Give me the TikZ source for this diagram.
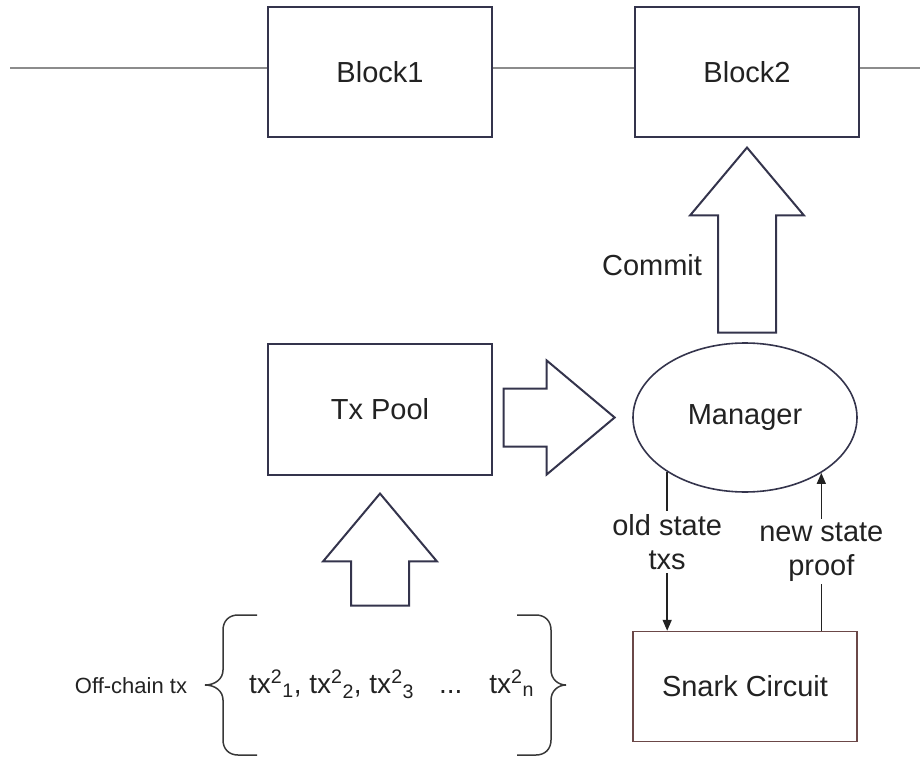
\documentclass[tikz,border=0pt]{standalone}
\usepackage{fontspec}
\setmainfont{Liberation Sans}
\usetikzlibrary{positioning,calc,shapes.geometric,shapes.arrows,arrows.meta}

\definecolor{boxline}{HTML}{34344C}
\definecolor{ledgerline}{HTML}{8C8C8C}
\definecolor{snarkline}{HTML}{6B4848}
\definecolor{ink}{HTML}{222222}
\newcommand{\biglabel}{\fontsize{29}{34}\selectfont}
\newcommand{\txlabel}{\fontsize{28}{33}\selectfont}
\newcommand{\smalllabel}{\fontsize{22}{26}\selectfont}

\begin{document}
\begin{tikzpicture}[x=1pt, y=-1pt,
    block/.style={draw=boxline, line width=2pt, minimum width=224pt, minimum height=130pt, font=\biglabel, text=ink},
    manager/.style={ellipse, draw=boxline, line width=1.6pt, minimum width=224pt, minimum height=149pt, inner sep=0pt, font=\biglabel, text=ink},
    bigarrow/.style={single arrow, draw=boxline, line width=2pt, minimum width=112pt, single arrow head extend=28pt, single arrow tip angle=80, inner xsep=0pt, inner ysep=28pt},
    ledger/.style={draw=ledgerline, line width=2pt},
    link/.style={draw=ink, line width=1.5pt, -{Triangle[length=11pt,width=9pt]}},
    linklabel/.style={fill=white, align=center, font=\biglabel, text=ink, inner sep=3pt},
    curly/.style={draw=ink!90, line width=1.5pt}
]
    \useasboundingbox (0,0) rectangle (920,759);

    % the chain on top
    \node[block] (block1) at (380,72) {Block1};
    \node[block, right=141pt of block1] (block2) {Block2};
    \coordinate (ledgerstart) at (10,68);
    \coordinate (ledgerend) at (920,68);
    \draw[ledger] (ledgerstart) -- (ledgerstart -| block1.west);
    \draw[ledger] (ledgerstart -| block1.east) -- (ledgerstart -| block2.west);
    \draw[ledger] (ledgerstart -| block2.east) -- (ledgerend);

    % pool, manager and the circuit
    \node[block, below=205pt of block1, minimum height=131pt] (txpool) {Tx Pool};
    \node[manager] (manager) at (745,417.5) {Manager};
    \node[block, draw=snarkline, line width=1.5pt, minimum height=110pt, below=138pt of manager] (snark) {Snark Circuit};

    % big hollow arrows
    \node[bigarrow, minimum height=185pt, rotate=90, anchor=tip] (commit) at ($(block2.south)+(0,8)$) {};
    \node[font=\biglabel, text=ink] (commitlabel) at (652,265) {Commit};
    \node[bigarrow, minimum height=111pt, anchor=tip] (feed) at ($(manager.west)+(-16,0)$) {};
    \node[bigarrow, minimum height=112pt, rotate=90, anchor=tip] (submit) at ($(txpool.south)+(0,16)$) {};

    % manager <-> circuit
    \draw[link] (manager.215) -- node[linklabel, pos=0.44] {old state\\txs} (manager.215 |- snark.north);
    \draw[link] (manager.324 |- snark.north) -- node[linklabel, pos=0.5] {new state\\proof} (manager.324);

    % off-chain transactions
    \node[font=\smalllabel, text=ink] (offchain) at (131,686) {Off-chain tx};
    \node[font=\txlabel, text=ink, inner sep=0pt, anchor=base west] (batch) at (249,693)
        {tx\textsuperscript{2}\textsubscript{1}, tx\textsuperscript{2}\textsubscript{2}, tx\textsuperscript{2}\textsubscript{3}\hspace{25pt}...\hspace{27pt}tx\textsuperscript{2}\textsubscript{n}};
    \draw[curly] (257,615) -- (238,615) .. controls (229,615) and (223,621) .. (223,630) -- (223,670)
        .. controls (223,679) and (215,685) .. (205,685) .. controls (215,685) and (223,691) .. (223,700)
        -- (223,740) .. controls (223,749) and (229,755) .. (238,755) -- (257,755);
    \draw[curly] (517,615) -- (536,615) .. controls (545,615) and (551,621) .. (551,630) -- (551,670)
        .. controls (551,679) and (558,685) .. (566,685) .. controls (558,685) and (551,691) .. (551,700)
        -- (551,740) .. controls (551,749) and (545,755) .. (536,755) -- (517,755);
\end{tikzpicture}
\end{document}
